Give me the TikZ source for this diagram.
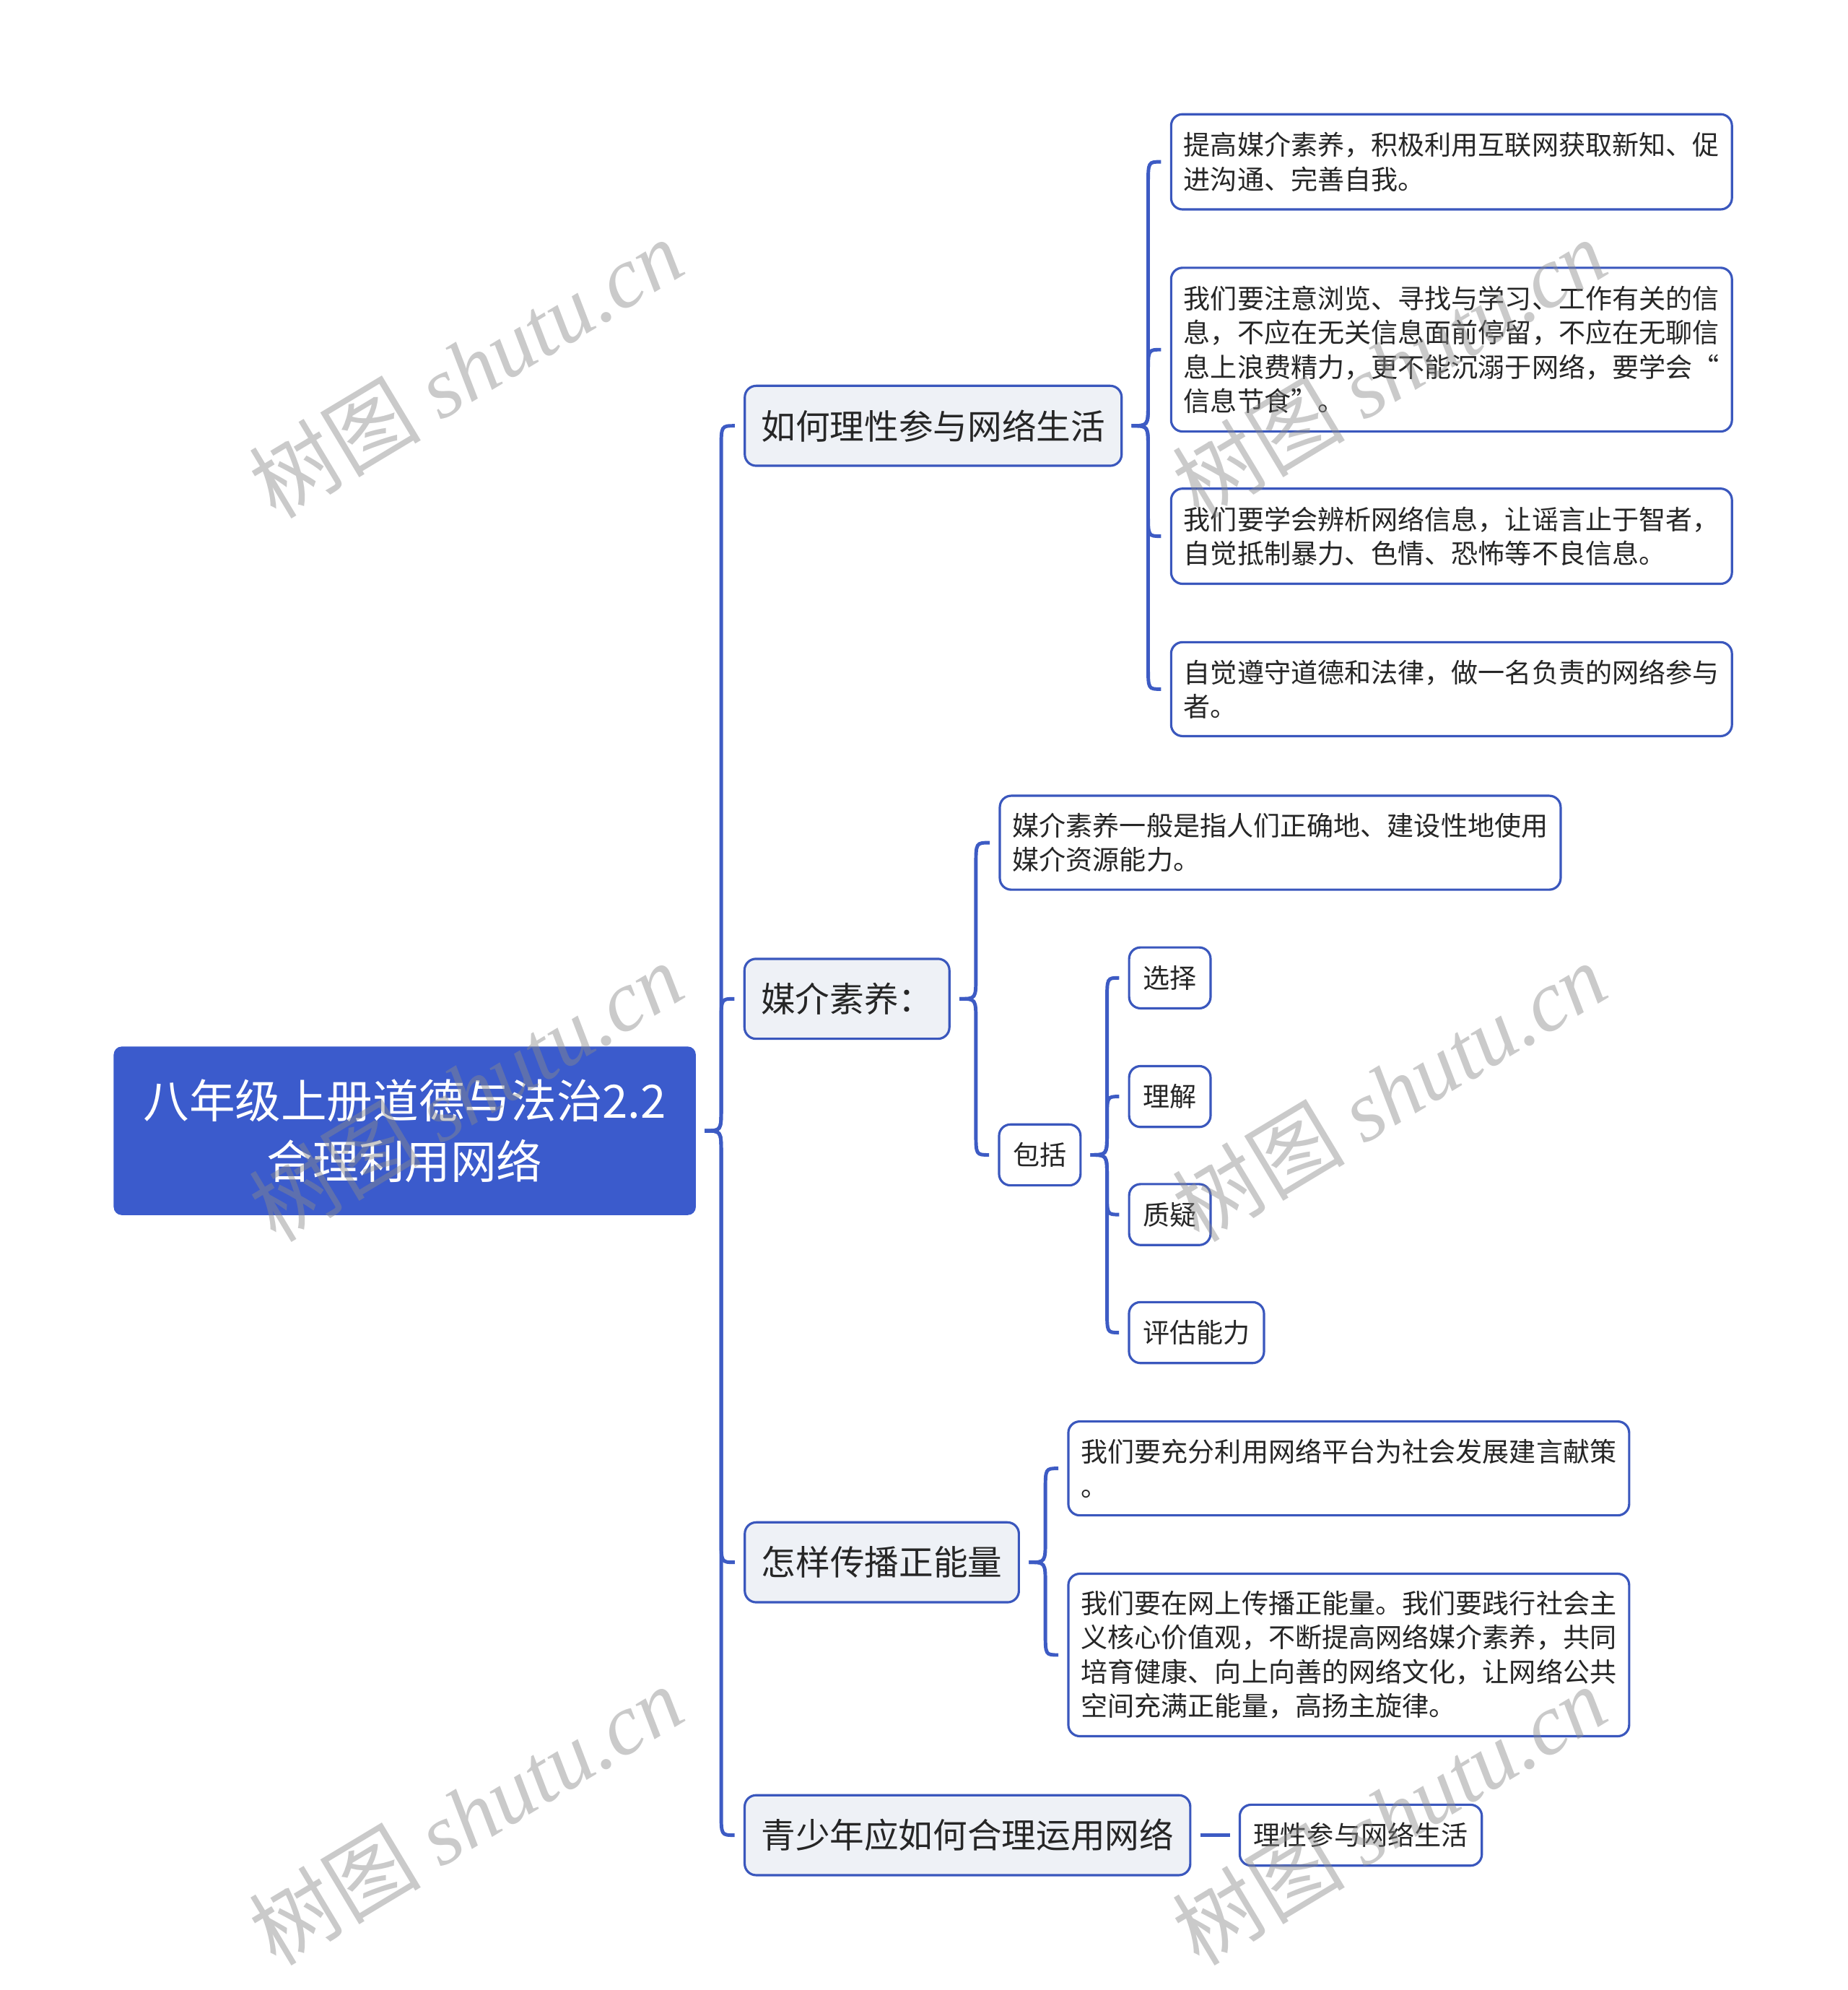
\documentclass[tikz,border=0pt]{standalone}
\usepackage{fontspec}
\setmainfont{Noto Sans CJK SC}
\newfontfamily\wmlatin{Liberation Serif}
\usetikzlibrary{calc}
\definecolor{rootblue}{HTML}{3B5BCC}
\definecolor{edgeblue}{HTML}{3A57BD}
\definecolor{linkblue}{HTML}{3D5BC4}
\definecolor{topicfill}{HTML}{EEF1F6}
\definecolor{txt}{HTML}{262626}
\definecolor{wmgray}{HTML}{8A8A8A}
\tikzset{
  rootbox/.style={fill=rootblue, draw=rootblue, rounded corners=3pt, text=white, align=center,
    font=\fontsize{18.1}{24}\selectfont, minimum width=229pt, minimum height=66pt, inner sep=0pt},
  topicbox/.style={fill=topicfill, draw=edgeblue, line width=0.9pt, rounded corners=4.5pt, text=txt,
    font=\fontsize{13.55}{17}\selectfont, minimum height=31.5pt, inner xsep=6.5pt, inner ysep=0pt},
  leafbox/.style={fill=white, draw=edgeblue, line width=0.9pt, rounded corners=4.5pt, text=txt,
    font=\fontsize{10.55}{13.5}\selectfont, text width=211pt, align=left, inner xsep=5pt, inner ysep=0pt},
  smallbox/.style={fill=white, draw=edgeblue, line width=0.9pt, rounded corners=4.5pt, text=txt,
    font=\fontsize{10.55}{13.5}\selectfont, minimum height=24pt, inner xsep=5.5pt, inner ysep=0pt},
  linkline/.style={draw=linkblue, line width=1.4pt},
  wmark/.style={text=wmgray, opacity=0.45, rotate=31, inner sep=0pt,
    font=\fontsize{34}{34}\selectfont}
}
\newcommand{\mmlink}[2]{%
  \draw[linkline] let \p1=(#1.east), \p2=(#2.west), \n1={(\y2>\y1)*2-1} in
  ({\x1+3.5pt},\y1) .. controls ({\x1+10pt},\y1) .. ({\x1+10pt},{\y1+\n1*9pt})
  -- ({\x1+10pt},{\y2-\n1*9pt}) .. controls ({\x1+10pt},\y2) .. ({\x2-3.5pt},\y2);}
\begin{document}
\begin{tikzpicture}[x=0.5pt,y=-0.5pt]
\path[use as bounding box, fill=white] (0,0) rectangle (1456,1568);

\node[rootbox] (root) at (319,891) {八年级上册道德与法治2.2\\合理利用网络};

\node[topicbox, minimum width=148.5pt] (ta) at (735.5,335.5) {如何理性参与网络生活};
\node[topicbox, minimum width=80.5pt] (tb) at (667.5,787) {媒介素养：};
\node[topicbox, minimum width=108pt] (tc) at (695,1231) {怎样传播正能量};
\node[topicbox, minimum width=175.5pt] (td) at (762.5,1446) {青少年应如何合理运用网络};

\node[leafbox, minimum height=37.5pt] (a1) at (1144,127.5) {提高媒介素养，积极利用互联网获取新知、促\\进沟通、完善自我。};
\node[leafbox, minimum height=64.5pt] (a2) at (1144,275.5) {我们要注意浏览、寻找与学习、工作有关的信\\息，不应在无关信息面前停留，不应在无聊信\\息上浪费精力，更不能沉溺于网络，要学会“\\信息节食”。};
\node[leafbox, minimum height=37.5pt] (a3) at (1144,422.5) {我们要学会辨析网络信息，让谣言止于智者，\\自觉抵制暴力、色情、恐怖等不良信息。};
\node[leafbox, minimum height=37pt] (a4) at (1144,543) {自觉遵守道德和法律，做一名负责的网络参与\\者。};

\node[leafbox, minimum height=37pt] (b1) at (1009,664) {媒介素养一般是指人们正确地、建设性地使用\\媒介资源能力。};
\node[smallbox] (b2) at (819.5,910) {包括};
\node[smallbox] (b21) at (922,770.5) {选择};
\node[smallbox] (b22) at (922,864) {理解};
\node[smallbox] (b23) at (922,957) {质疑};
\node[smallbox] (b24) at (943,1050) {评估能力};

\node[leafbox, minimum height=37pt] (c1) at (1063,1157) {我们要充分利用网络平台为社会发展建言献策\\。};
\node[leafbox, minimum height=64pt] (c2) at (1063,1304) {我们要在网上传播正能量。我们要践行社会主\\义核心价值观，不断提高网络媒介素养，共同\\培育健康、向上向善的网络文化，让网络公共\\空间充满正能量，高扬主旋律。};

\node[smallbox] (d1) at (1072.5,1446) {理性参与网络生活};

\mmlink{root}{ta}
\mmlink{root}{tb}
\mmlink{root}{tc}
\mmlink{root}{td}
\mmlink{ta}{a1}
\mmlink{ta}{a2}
\mmlink{ta}{a3}
\mmlink{ta}{a4}
\mmlink{tb}{b1}
\mmlink{tb}{b2}
\mmlink{b2}{b21}
\mmlink{b2}{b22}
\mmlink{b2}{b23}
\mmlink{b2}{b24}
\mmlink{tc}{c1}
\mmlink{tc}{c2}
\draw[linkline] ($(td.east)+(3.5pt,0)$) -- ($(d1.west)+(-3.5pt,0)$);

\node[wmark] (w1) at (367,290) {树图 {\wmlatin\itshape shutu.cn}};
\node[wmark] (w2) at (367,860) {树图 {\wmlatin\itshape shutu.cn}};
\node[wmark] (w3) at (367,1430) {树图 {\wmlatin\itshape shutu.cn}};
\node[wmark] (w4) at (1095,290) {树图 {\wmlatin\itshape shutu.cn}};
\node[wmark] (w5) at (1095,860) {树图 {\wmlatin\itshape shutu.cn}};
\node[wmark] (w6) at (1095,1430) {树图 {\wmlatin\itshape shutu.cn}};
\end{tikzpicture}
\end{document}
